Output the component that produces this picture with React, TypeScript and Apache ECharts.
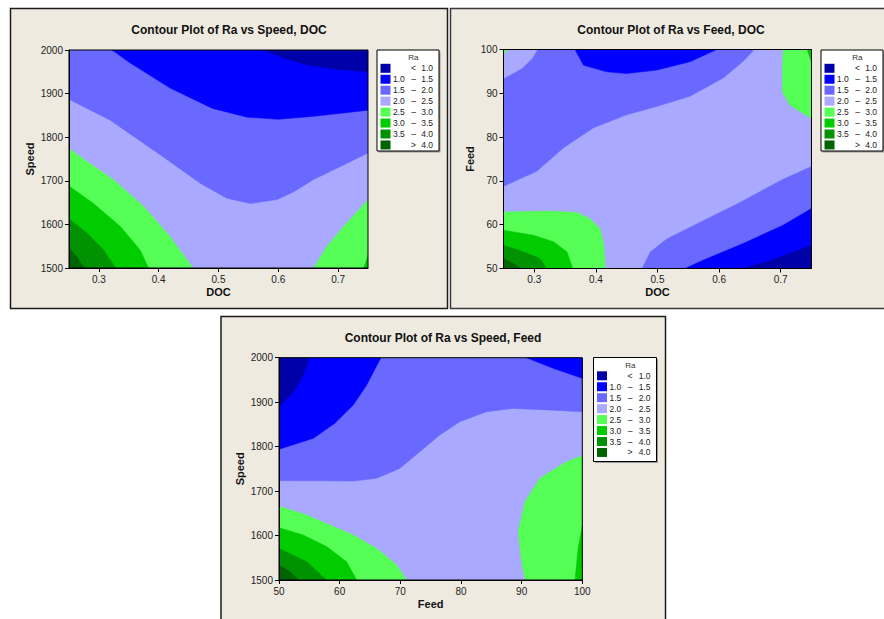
import React, { useEffect, useRef } from 'react';
import * as echarts from 'echarts';

// ---------- Legend / levels ----------
const legendTitle = 'Ra';
const legendLow = ['', '1.0', '1.5', '2.0', '2.5', '3.0', '3.5', ''];
const legendSym = ['<', '–', '–', '–', '–', '–', '–', '>'];
const legendHigh = ['1.0', '1.5', '2.0', '2.5', '3.0', '3.5', '4.0', '4.0'];
const levelColors = ['#0000A8', '#0000FF', '#6969FF', '#A9A9FF', '#55FF55', '#00CC00', '#009200', '#006400'];

// ---------- Axis ticks ----------
const docTicks = [0.3, 0.4, 0.5, 0.6, 0.7];
const speedTicks = [1500, 1600, 1700, 1800, 1900, 2000];
const feedTicks = [50, 60, 70, 80, 90, 100];

const titles = [
  'Contour Plot of Ra vs Speed, DOC',
  'Contour Plot of Ra vs Feed, DOC',
  'Contour Plot of Ra vs Speed, Feed',
];

// ---------- Plot 1: Speed vs DOC (contour regions, boundaries) ----------
const p1Base = [[0.25, 1500], [0.75, 1500], [0.75, 2000], [0.25, 2000]];
const p1Mid = [[0.25, 1887], [0.28, 1866], [0.319, 1839], [0.403, 1759], [0.47, 1694], [0.514, 1660], [0.553, 1648], [0.598, 1657], [0.626, 1675], [0.659, 1703], [0.709, 1736], [0.75, 1764], [0.75, 2000], [0.25, 2000]];
const p1Blue = [[0.322, 2000], [0.3525, 1970], [0.42, 1912], [0.49, 1866], [0.548, 1846], [0.6, 1841], [0.66, 1848], [0.75, 1862], [0.75, 2000]];
const p1Navy = [[0.575, 2000], [0.61, 1981], [0.65, 1965], [0.7, 1955], [0.75, 1950], [0.75, 2000]];
const p1LG = [[0.25, 1774], [0.28, 1744], [0.325, 1702], [0.375, 1641], [0.419, 1572], [0.457, 1500], [0.25, 1500]];
const p1G = [[0.25, 1688], [0.291, 1648], [0.336, 1595], [0.369, 1541], [0.383, 1500], [0.25, 1500]];
const p1DG = [[0.25, 1613], [0.28, 1580], [0.308, 1541], [0.328, 1500], [0.25, 1500]];
const p1VDG = [[0.25, 1547], [0.263, 1526], [0.276, 1500], [0.25, 1500]];
const p1LGRight = [[0.659, 1500], [0.681, 1549], [0.709, 1595], [0.75, 1656], [0.75, 1500]];
const p1GRight = [[0.743, 1500], [0.75, 1530], [0.75, 1500]];
const p1Regions = [
  { level: 3, pts: p1Base }, { level: 2, pts: p1Mid }, { level: 1, pts: p1Blue }, { level: 0, pts: p1Navy },
  { level: 4, pts: p1LG }, { level: 5, pts: p1G }, { level: 6, pts: p1DG }, { level: 7, pts: p1VDG },
  { level: 4, pts: p1LGRight }, { level: 5, pts: p1GRight },
];

// ---------- Plot 2: Feed vs DOC ----------
const p2Base = [[0.25, 50], [0.75, 50], [0.75, 100], [0.25, 100]];
const p2LavTL = [[0.25, 100], [0.305, 100], [0.296, 97.9], [0.28, 95.7], [0.25, 93.4]];
const p2LGTL = [[0.25, 100], [0.257, 100], [0.25, 98.8]];
const p2BlueTop = [[0.366, 100], [0.38, 96.4], [0.4176, 94.9], [0.45, 94.5], [0.4986, 95.3], [0.5527, 97.2], [0.596, 100]];
const p2LavBand = [[0.25, 50], [0.25, 68.65], [0.304, 72.1], [0.347, 77.4], [0.396, 82], [0.45, 85], [0.4986, 86.9], [0.5527, 89.2], [0.6068, 93.4], [0.639, 97.2], [0.658, 100], [0.75, 100], [0.75, 73.4], [0.704, 70.5], [0.634, 65.2], [0.569, 60.65], [0.515, 56.85], [0.4878, 53.8], [0.4743, 50]];
const p2LGRight = [[0.704, 100], [0.7025, 94.9], [0.703, 90.3], [0.715, 87.3], [0.75, 84.25], [0.75, 100]];
const p2GRight = [[0.743, 100], [0.75, 100], [0.75, 97]];
const p2BlueBR = [[0.5446, 50], [0.574, 51.9], [0.639, 55.7], [0.704, 59.9], [0.75, 63.7], [0.75, 50]];
const p2NavyBR = [[0.6365, 50], [0.677, 51.5], [0.75, 55.3], [0.75, 50]];
const p2LG = [[0.25, 62.9], [0.3257, 63.1], [0.369, 62.8], [0.39, 61.4], [0.4068, 59.1], [0.413, 55.3], [0.415, 50], [0.25, 50]];
const p2G = [[0.25, 58.75], [0.2986, 57.6], [0.331, 56.1], [0.353, 53.8], [0.3624, 50], [0.25, 50]];
const p2DG = [[0.25, 55.3], [0.2824, 53.8], [0.309, 52.3], [0.32, 50], [0.25, 50]];
const p2VDG = [[0.25, 52.3], [0.266, 51.1], [0.28, 50], [0.25, 50]];
const p2Regions = [
  { level: 2, pts: p2Base }, { level: 3, pts: p2LavTL }, { level: 4, pts: p2LGTL }, { level: 1, pts: p2BlueTop },
  { level: 3, pts: p2LavBand }, { level: 4, pts: p2LGRight }, { level: 5, pts: p2GRight },
  { level: 1, pts: p2BlueBR }, { level: 0, pts: p2NavyBR },
  { level: 4, pts: p2LG }, { level: 5, pts: p2G }, { level: 6, pts: p2DG }, { level: 7, pts: p2VDG },
];

// ---------- Plot 3: Speed vs Feed ----------
const p3Base = [[50, 1500], [100, 1500], [100, 2000], [50, 2000]];
const p3Mid = [[50, 1723.4], [56.76, 1723], [62.25, 1722.6], [66.1, 1728.6], [69.9, 1751], [73.2, 1788.6], [76.5, 1826], [79.8, 1856], [84.2, 1878.6], [88.6, 1886], [95.2, 1882], [100, 1878.6], [100, 2000], [50, 2000]];
const p3BlueL = [[66.8, 2000], [64.45, 1938.5], [62.25, 1893.6], [59.2, 1852.3], [55.66, 1818.6], [50, 1793.9], [50, 2000]];
const p3NavyL = [[55, 2000], [54, 1961], [52.4, 1923.5], [50, 1889.8], [50, 2000]];
const p3BlueR = [[90.8, 2000], [95.2, 1976], [100, 1953.5], [100, 2000]];
const p3LGR = [[100, 1779.6], [97.4, 1766], [93, 1728.6], [90.55, 1676], [89.45, 1608.7], [90, 1541], [90.55, 1500], [100, 1500]];
const p3GR = [[100, 1622], [99.3, 1571], [98.8, 1500], [100, 1500]];
const p3LG = [[50, 1666], [54.56, 1646], [58.4, 1623.6], [62.25, 1601], [66.1, 1571], [69.4, 1533.7], [71.04, 1500], [50, 1500]];
const p3G = [[50, 1617.7], [54, 1601], [57.9, 1575], [61.15, 1541], [62.8, 1500], [50, 1500]];
const p3DG = [[50, 1571], [54.56, 1541], [57.86, 1500], [50, 1500]];
const p3VDG = [[50, 1533.7], [51.8, 1519], [53.2, 1500], [50, 1500]];
const p3Regions = [
  { level: 3, pts: p3Base }, { level: 2, pts: p3Mid }, { level: 1, pts: p3BlueL }, { level: 0, pts: p3NavyL },
  { level: 1, pts: p3BlueR }, { level: 4, pts: p3LGR }, { level: 5, pts: p3GR },
  { level: 4, pts: p3LG }, { level: 5, pts: p3G }, { level: 6, pts: p3DG }, { level: 7, pts: p3VDG },
];

const FONT = 'Liberation Sans, Arial, sans-serif';
const BG = '#EEEAE0';

function contourSeries(idx: number, regions: { level: number; pts: number[][] }[]) {
  return {
    type: 'custom',
    xAxisIndex: idx,
    yAxisIndex: idx,
    z: 2,
    clip: true,
    data: regions.map((r) => r.pts[0]),
    renderItem: (params: any, api: any) => {
      const r = regions[params.dataIndex];
      const points = r.pts.map((p) => api.coord(p));
      const c = levelColors[r.level];
      return {
        type: 'polygon',
        shape: { points },
        style: { fill: c, stroke: c, lineWidth: 0.5 },
      };
    },
  };
}

function legendBox(x0: number, y0: number, w: number, h: number) {
  const els: any[] = [];
  els.push({ type: 'rect', z: 20, shape: { x: x0 + 1.5, y: y0 + 1.5, width: w, height: h }, style: { fill: '#9a9a9a' } });
  els.push({ type: 'rect', z: 21, shape: { x: x0, y: y0, width: w, height: h }, style: { fill: '#ffffff', stroke: '#000', lineWidth: 1 } });
  els.push({ type: 'text', z: 22, x: x0 + w * 0.585, y: y0 + 7.8, style: { text: legendTitle, font: `8px ${FONT}`, fill: '#333', align: 'center', verticalAlign: 'middle' } });
  for (let i = 0; i < 8; i++) {
    const cy = y0 + 18.3 + i * 10.95;
    els.push({ type: 'rect', z: 22, shape: { x: x0 + 3.5, y: cy - 4.5, width: 10, height: 9 }, style: { fill: levelColors[i] } });
    if (legendLow[i]) {
      els.push({ type: 'text', z: 22, x: x0 + 16, y: cy, style: { text: legendLow[i], font: `8.5px ${FONT}`, fill: '#222', align: 'left', verticalAlign: 'middle' } });
    }
    els.push({ type: 'text', z: 22, x: x0 + 36.5, y: cy, style: { text: legendSym[i], font: `8.5px ${FONT}`, fill: '#222', align: 'center', verticalAlign: 'middle' } });
    els.push({ type: 'text', z: 22, x: x0 + w - 6, y: cy, style: { text: legendHigh[i], font: `8.5px ${FONT}`, fill: '#222', align: 'right', verticalAlign: 'middle' } });
  }
  return els;
}

const plain = (v: number) => String(v);

function axisCommon(extra: any) {
  return {
    type: 'value',
    nameLocation: 'middle',
    nameTextStyle: { fontFamily: FONT, fontWeight: 'bold', fontSize: 11, color: '#111' },
    axisLine: { show: true, onZero: false, lineStyle: { color: '#000', width: 1 } },
    axisTick: { show: true, length: 4, inside: false, lineStyle: { color: '#000' } },
    axisLabel: { fontFamily: FONT, fontSize: 10, color: '#222', margin: 6, formatter: plain },
    splitLine: { show: false },
    z: 12,
    ...extra,
  };
}

export default function App() {
  const ref = useRef<HTMLDivElement>(null);
  useEffect(() => {
    if (!ref.current) return;
    const chart = echarts.init(ref.current, undefined, { renderer: 'svg' });
    const graphics: any[] = [
      { type: 'rect', z: -10, shape: { x: 10.5, y: 8.5, width: 437, height: 300 }, style: { fill: BG, stroke: '#1c1c1c', lineWidth: 1.5 } },
      { type: 'rect', z: -10, shape: { x: 450.5, y: 8.5, width: 445, height: 300 }, style: { fill: BG, stroke: '#3a3a3a', lineWidth: 1.5 } },
      { type: 'rect', z: -10, shape: { x: 221, y: 316.5, width: 444.5, height: 320 }, style: { fill: BG, stroke: '#1c1c1c', lineWidth: 1.5 } },
      { type: 'text', z: 20, x: 229, y: 30, style: { text: titles[0], font: `bold 12px ${FONT}`, fill: '#111', align: 'center', verticalAlign: 'middle' } },
      { type: 'text', z: 20, x: 671, y: 30, style: { text: titles[1], font: `bold 12px ${FONT}`, fill: '#111', align: 'center', verticalAlign: 'middle' } },
      { type: 'text', z: 20, x: 443, y: 338, style: { text: titles[2], font: `bold 12px ${FONT}`, fill: '#111', align: 'center', verticalAlign: 'middle' } },
      ...legendBox(377, 50, 62, 101),
      ...legendBox(821, 50, 62, 101),
      ...legendBox(593.5, 357.5, 63, 104),
    ];
    const option: any = {
      animation: false,
      backgroundColor: '#ffffff',
      graphic: { elements: graphics },
      grid: [
        { left: 69, top: 50, width: 299, height: 218, show: true, borderColor: '#000', borderWidth: 1, backgroundColor: 'transparent', z: 10 },
        { left: 503.5, top: 49.5, width: 308, height: 219, show: true, borderColor: '#000', borderWidth: 1, backgroundColor: 'transparent', z: 10 },
        { left: 279, top: 357.7, width: 303.3, height: 222.3, show: true, borderColor: '#000', borderWidth: 1, backgroundColor: 'transparent', z: 10 },
      ],
      xAxis: [
        axisCommon({ gridIndex: 0, min: 0.25, max: 0.75, name: 'DOC', nameGap: 18,
          axisTick: { show: true, length: 4, customValues: docTicks, lineStyle: { color: '#000' } },
          axisLabel: { customValues: docTicks, fontFamily: FONT, fontSize: 10, color: '#222', margin: 6, formatter: (v: number) => v.toFixed(1) } }),
        axisCommon({ gridIndex: 1, min: 0.25, max: 0.75, name: 'DOC', nameGap: 18,
          axisTick: { show: true, length: 4, customValues: docTicks, lineStyle: { color: '#000' } },
          axisLabel: { customValues: docTicks, fontFamily: FONT, fontSize: 10, color: '#222', margin: 6, formatter: (v: number) => v.toFixed(1) } }),
        axisCommon({ gridIndex: 2, min: feedTicks[0], max: feedTicks[feedTicks.length - 1], interval: 10, name: 'Feed', nameGap: 18 }),
      ],
      yAxis: [
        axisCommon({ gridIndex: 0, min: speedTicks[0], max: speedTicks[speedTicks.length - 1], interval: 100, name: 'Speed', nameGap: 34, nameRotate: 90 }),
        axisCommon({ gridIndex: 1, min: feedTicks[0], max: feedTicks[feedTicks.length - 1], interval: 10, name: 'Feed', nameGap: 28, nameRotate: 90 }),
        axisCommon({ gridIndex: 2, min: speedTicks[0], max: speedTicks[speedTicks.length - 1], interval: 100, name: 'Speed', nameGap: 34, nameRotate: 90 }),
      ],
      series: [contourSeries(0, p1Regions), contourSeries(1, p2Regions), contourSeries(2, p3Regions)],
    };
    chart.setOption(option);
    return () => chart.dispose();
  }, []);
  return <div ref={ref} style={{ position: 'fixed', left: 0, top: 0, width: 884, height: 619 }} />;
}
